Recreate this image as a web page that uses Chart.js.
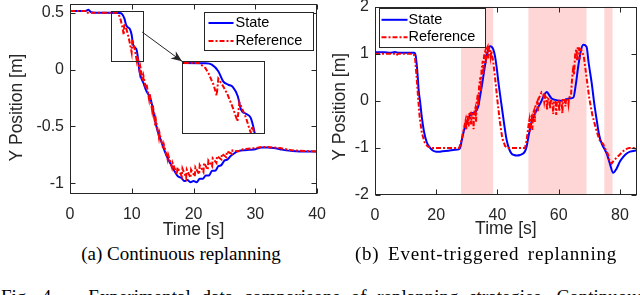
<!DOCTYPE html>
<html>
<head>
<meta charset="utf-8">
<script src="https://cdn.jsdelivr.net/npm/chart.js@4.4.1/dist/chart.umd.min.js"></script>
<style>
  html, body { margin: 0; padding: 0; background: #fff; }
  body { width: 640px; height: 295px; position: relative; overflow: hidden; }
  .box { position: absolute; }
  .cap { position: absolute; font-family: "Liberation Serif", "Times New Roman", serif; font-size: 19px; line-height: 19px; color: #000; white-space: nowrap; }
  .mid { transform: translateX(-50%); }
</style>
</head>
<body>
<div class="box" style="left:0;top:-12.3px;width:337px;height:252.3px"><canvas id="chartA"></canvas></div>
<div class="box" style="left:182px;top:61px;width:83px;height:73px"><canvas id="chartZoom"></canvas></div>
<div class="box" style="left:325px;top:-10px;width:315px;height:250px"><canvas id="chartB"></canvas></div>
<div class="cap mid" style="left:181px;top:244px">(a) Continuous replanning</div>
<div class="cap mid" style="left:486px;top:244px;word-spacing:3px;letter-spacing:0.8px">(b) Event-triggered replanning</div>
<div class="cap" style="left:1px;top:287.3px;word-spacing:6px">Fig. 4.&nbsp;&nbsp; Experimental data comparisons of replanning strategies. Continuous</div>
<script>
// (a) continuous replanning: [time s, y m]
const stateA = [
  [0, 0.515], [2.5, 0.515], [3.0, 0.525], [3.4, 0.505], [4, 0.50], [6, 0.50], [8, 0.498],
  [8.4, 0.49], [8.8, 0.45], [9.1, 0.39], [9.4, 0.37], [9.7, 0.355], [10.0, 0.30], [10.2, 0.22],
  [10.5, 0.195], [10.8, 0.17], [11.0, 0.10], [11.2, 0.0], [11.5, -0.07], [11.9, -0.12],
  [12.3, -0.18], [12.7, -0.22], [13.1, -0.27], [13.5, -0.37], [13.9, -0.48], [14.3, -0.56],
  [14.9, -0.65], [15.5, -0.74], [16.3, -0.83], [17.0, -0.90], [17.5, -0.94], [18.0, -0.95],
  [18.5, -0.98], [19.0, -0.97], [19.5, -0.99], [20.0, -0.98], [20.5, -0.99], [21.0, -0.96],
  [21.5, -0.96], [22.0, -0.93], [22.5, -0.93], [23.0, -0.89], [23.5, -0.89], [24.0, -0.85],
  [24.5, -0.84], [25.0, -0.80], [25.5, -0.79], [26.0, -0.76], [26.5, -0.74], [27.0, -0.72],
  [28, -0.71], [29, -0.705], [30, -0.70], [31, -0.685], [32, -0.685], [33, -0.69], [34, -0.70],
  [35, -0.71], [36, -0.715], [38, -0.72], [40, -0.72]
];
const refA = [
  [0, 0.515], [2.5, 0.515], [2.6, 0.50], [7.6, 0.50], [8.0, 0.47], [8.2, 0.437], [8.5, 0.37],
  [8.7, 0.305], [8.8, 0.406], [9.1, 0.36], [9.35, 0.315], [9.7, 0.23], [9.98, 0.15], [10.1, 0.264],
  [10.5, 0.172], [10.8, 0.08], [10.9, 0.12], [11.3, -0.02], [11.4, 0.02], [11.8, -0.10],
  [11.9, -0.06], [12.3, -0.17], [12.4, -0.13], [12.8, -0.26], [12.9, -0.21], [13.3, -0.36],
  [13.4, -0.31], [13.8, -0.49], [13.9, -0.44], [14.4, -0.60], [14.5, -0.56], [15.1, -0.70],
  [15.2, -0.66], [15.8, -0.79], [15.9, -0.75], [16.5, -0.86], [16.6, -0.82], [17.3, -0.92],
  [17.4, -0.86], [18.1, -0.94], [18.2, -0.87], [18.8, -0.95], [18.9, -0.88], [19.5, -0.95],
  [19.6, -0.88], [20.2, -0.94], [20.3, -0.86], [20.9, -0.92], [21.0, -0.84], [21.6, -0.90],
  [21.7, -0.82], [22.3, -0.88], [22.4, -0.80], [23.0, -0.85], [23.1, -0.78], [23.7, -0.82],
  [23.8, -0.76], [24.5, -0.79], [24.6, -0.74], [25.3, -0.77], [25.4, -0.72], [26.2, -0.74],
  [26.3, -0.71], [27.2, -0.72], [28, -0.70], [30, -0.69], [31, -0.68], [32, -0.68], [34, -0.69],
  [36, -0.71], [38, -0.715], [40, -0.72]
];
// (b) event-triggered replanning
const stateB = [
  [0, 1.03], [3, 1.03], [5, 1.02], [6.5, 1.04], [7, 1.03], [8, 1.02], [12.8, 1.02], [13.3, 0.95],
  [13.8, 0.65], [14.3, 0.2], [14.7, 0.0], [15.3, -0.35], [16.0, -0.65], [16.9, -0.88], [18, -1.0],
  [19, -1.06], [20, -1.08], [21, -1.08], [22, -1.07], [24, -1.06], [26, -1.04], [27.3, -1.03],
  [27.8, -1.0], [28.3, -0.85], [29.1, -0.62], [29.9, -0.48], [30.8, -0.33], [31.6, -0.27],
  [32.5, -0.25], [33.2, -0.2], [33.8, -0.1], [34.3, 0.09], [35.1, 0.4], [35.9, 0.74], [36.8, 1.05],
  [37.6, 1.16], [38.6, 1.1], [39.2, 0.95], [39.7, 0.73], [40.5, 0.3], [41.4, -0.12], [42.2, -0.5],
  [43.0, -0.83], [43.8, -1.02], [44.6, -1.12], [45.4, -1.15], [46.3, -1.16], [47.4, -1.15],
  [48.4, -1.12], [49.0, -1.07], [49.5, -0.98], [50.3, -0.7], [51.2, -0.43], [52.0, -0.3],
  [52.8, -0.2], [53.6, -0.1], [54.4, 0.0], [55.2, 0.12], [56.1, 0.19], [56.9, 0.12], [57.7, 0.05],
  [59, 0.02], [60.4, 0.0], [62, 0.02], [63.5, 0.05], [64.8, 0.07], [65.6, 0.35], [66.4, 0.74],
  [67.2, 1.05], [68.0, 1.19], [69.1, 1.15], [69.8, 0.8], [70.8, 0.37], [71.6, -0.05], [72.4, -0.4],
  [73.2, -0.72], [74.0, -0.9], [75.0, -1.03], [75.7, -1.12], [76.7, -1.33], [77.8, -1.53],
  [78.9, -1.44], [80, -1.29], [81.1, -1.19], [82.2, -1.12], [83.3, -1.08], [85.5, -1.05]
];
const refB = [
  [0, 1.0], [6.5, 1.0], [7, 0.97], [7.5, 1.0], [12.6, 1.0], [13.1, 0.9], [13.6, 0.5], [14.1, 0.05],
  [14.6, -0.35], [15.3, -0.68], [16.2, -0.88], [17.2, -0.97], [18.5, -1.0], [27.5, -1.0],
  [28.2, -0.85], [29.0, -0.6], [29.6, -0.42], [29.8, -0.62], [30.0, -0.36], [30.4, -0.3],
  [30.6, -0.55], [30.8, -0.28], [31.2, -0.26], [31.4, -0.5], [31.6, -0.27], [32.0, -0.3],
  [32.2, -0.6], [32.4, -0.25], [32.8, -0.15], [33.0, -0.45], [33.2, -0.05], [33.6, 0.15],
  [33.8, -0.1], [34.0, 0.3], [34.4, 0.5], [34.6, 0.2], [34.8, 0.65], [35.2, 0.85], [35.4, 0.55],
  [35.6, 0.95], [36.0, 1.05], [36.2, 0.8], [36.4, 1.1], [36.8, 1.15], [37.0, 0.9], [37.2, 1.13],
  [37.6, 1.1], [37.8, 0.95], [38.0, 1.05], [38.6, 0.85], [39.2, 0.5], [40.0, 0.0], [40.8, -0.45],
  [41.6, -0.8], [42.5, -0.96], [43.5, -1.0], [49.0, -1.0], [49.5, -0.85], [50.2, -0.5],
  [50.4, -0.42], [50.6, -0.65], [50.8, -0.36], [51.2, -0.32], [51.4, -0.62], [51.6, -0.27],
  [52.0, -0.2], [52.2, -0.45], [52.4, -0.12], [53.0, -0.02], [53.2, -0.22], [53.4, 0.04],
  [54.0, 0.12], [54.4, 0.18], [55.0, 0.14], [55.3, -0.02], [55.6, 0.1], [56.0, 0.05], [56.2, -0.2],
  [56.4, 0.05], [57.0, 0.02], [57.2, -0.16], [57.4, 0.0], [58.0, 0.0], [58.2, -0.28], [58.4, 0.0],
  [59.0, -0.02], [59.2, -0.3], [59.4, -0.02], [60.0, 0.0], [60.2, -0.22], [60.4, 0.0], [61.0, 0.0],
  [61.2, -0.26], [61.4, 0.02], [62.0, 0.02], [62.2, -0.12], [62.4, 0.03], [63.0, 0.05],
  [63.2, -0.06], [63.4, 0.07], [64.0, 0.1], [64.3, 0.4], [64.8, 0.75], [65.0, 0.55], [65.4, 1.0],
  [65.8, 1.1], [66.0, 0.85], [66.2, 1.12], [66.6, 1.12], [66.8, 0.88], [67.0, 1.1], [67.4, 1.08],
  [68.2, 0.95], [69.0, 0.55], [70.0, 0.05], [71.0, -0.3], [72.0, -0.55], [72.9, -0.75],
  [73.5, -0.85], [74.0, -0.88], [74.6, -0.92], [75.0, -1.0], [75.5, -1.05], [76.2, -1.15],
  [76.5, -1.25], [77.3, -1.33], [78.0, -1.27], [79.0, -1.2], [80.0, -1.14], [81.0, -1.07],
  [82.2, -1.02], [83.0, -1.0], [85.5, -1.0]
];
// time windows where replanning was triggered (shaded)
const eventWindows = [[28.1, 38.6], [50.1, 69.1], [74.9, 77.6]];

const xTicksA = [0, 10, 20, 30, 40];
const yTicksA = [-1, -0.5, 0, 0.5];
const xTicksB = [0, 20, 40, 60, 80];
const yTicksB = [-2, -1, 0, 1, 2];
const seriesNames = ["State", "Reference"];

const AXIS = "#262626";
const SANS = '"Liberation Sans", Arial, Helvetica, sans-serif';
Chart.defaults.font.family = SANS;
Chart.defaults.color = AXIS;

const pts = arr => arr.map(([x, y]) => ({ x, y }));

function lines(stateData, refData) {
  return [
    { label: seriesNames[1], data: pts(refData), borderColor: "#ff0000", borderWidth: 2,
      borderDash: [5, 2, 2, 2], pointRadius: 0, tension: 0, order: 0 },
    { label: seriesNames[0], data: pts(stateData), borderColor: "#0000ff", borderWidth: 2,
      pointRadius: 0, cubicInterpolationMode: "monotone", order: 1 }
  ];
}

// box, inward ticks, y label, legend, shading, zoom marker
const framePlugin = {
  id: "frame",
  beforeDraw(chart, args, o) {
    if (!o.bg) return;
    const { ctx, width, height } = chart;
    ctx.save();
    ctx.fillStyle = "#fff";
    ctx.fillRect(0, 0, width, height);
    ctx.restore();
  },
  beforeDatasetsDraw(chart, args, o) {
    if (!o.bands) return;
    const { ctx, chartArea: a, scales: { x } } = chart;
    ctx.save();
    ctx.fillStyle = "#ffd6d6";
    o.bands.forEach(([t0, t1]) => {
      const p0 = x.getPixelForValue(t0), p1 = x.getPixelForValue(t1);
      ctx.fillRect(p0, a.top, p1 - p0, a.bottom - a.top);
    });
    ctx.restore();
  },
  afterDraw(chart, args, o) {
    const { ctx, chartArea: a, scales: { x, y } } = chart;
    ctx.save();
    ctx.strokeStyle = AXIS;
    ctx.lineWidth = 1;
    const L = Math.round(a.left) + 0.5, R = Math.round(a.right) - 0.5;
    const T = Math.round(a.top) + 0.5, B = Math.round(a.bottom) - 0.5;
    ctx.strokeRect(L, T, R - L, B - T);
    if (o.ticks) {
      ctx.beginPath();
      x.ticks.forEach(t => {
        const p = Math.round(x.getPixelForValue(t.value)) + 0.5;
        ctx.moveTo(p, B); ctx.lineTo(p, B - 5);
        ctx.moveTo(p, T); ctx.lineTo(p, T + 5);
      });
      y.ticks.forEach(t => {
        const p = Math.round(y.getPixelForValue(t.value)) + 0.5;
        ctx.moveTo(L, p); ctx.lineTo(L + 5, p);
        ctx.moveTo(R, p); ctx.lineTo(R - 5, p);
      });
      ctx.stroke();
    }
    if (o.yTitle) {
      ctx.save();
      ctx.translate(o.yTitle.x, (a.top + a.bottom) / 2 + o.yTitle.dy);
      ctx.rotate(-Math.PI / 2);
      ctx.font = "17.5px " + SANS;
      ctx.fillStyle = AXIS;
      ctx.textAlign = "center";
      ctx.textBaseline = "middle";
      ctx.fillText(o.yTitle.text, 0, 0);
      ctx.restore();
    }
    if (o.zoom) {
      const z = o.zoom;
      const zx0 = x.getPixelForValue(z.x0), zx1 = x.getPixelForValue(z.x1);
      const zy0 = y.getPixelForValue(z.y0), zy1 = y.getPixelForValue(z.y1);
      ctx.strokeRect(Math.round(zx0) + 0.5, Math.round(zy1) + 0.5, Math.round(zx1 - zx0), Math.round(zy0 - zy1));
      const sx = zx1, sy = y.getPixelForValue(z.arrowY);
      const [ex, ey] = z.arrowTo;
      ctx.beginPath(); ctx.moveTo(sx, sy); ctx.lineTo(ex, ey); ctx.stroke();
      const ang = Math.atan2(ey - sy, ex - sx), hl = 11, hw = 4.5;
      ctx.fillStyle = AXIS;
      ctx.beginPath();
      ctx.moveTo(ex, ey);
      ctx.lineTo(ex - hl * Math.cos(ang) + hw * Math.sin(ang), ey - hl * Math.sin(ang) - hw * Math.cos(ang));
      ctx.lineTo(ex - 0.7 * hl * Math.cos(ang), ey - 0.7 * hl * Math.sin(ang));
      ctx.lineTo(ex - hl * Math.cos(ang) - hw * Math.sin(ang), ey - hl * Math.sin(ang) + hw * Math.cos(ang));
      ctx.closePath(); ctx.fill();
    }
    if (o.legend) {
      const g = o.legend;
      const bx = Math.round(a.left + g.dx) + 0.5, by = Math.round(a.top + g.dy) + 0.5;
      ctx.fillStyle = "#fff";
      ctx.fillRect(bx, by, g.w, g.h);
      ctx.strokeStyle = AXIS;
      ctx.strokeRect(bx, by, g.w, g.h);
      ctx.font = "14.5px " + SANS;
      ctx.textBaseline = "middle";
      seriesNames.forEach((name, i) => {
        const ds = chart.data.datasets.find(d => d.label === name);
        const ry = by + g.rowY[i];
        ctx.strokeStyle = ds.borderColor;
        ctx.lineWidth = ds.borderWidth;
        ctx.setLineDash(ds.borderDash || []);
        ctx.beginPath(); ctx.moveTo(bx + g.lx0, ry); ctx.lineTo(bx + g.lx1, ry); ctx.stroke();
        ctx.setLineDash([]);
        ctx.fillStyle = "#000";
        ctx.fillText(name, bx + g.tx, ry);
      });
    }
    ctx.restore();
  }
};

function axes(xMin, xMax, xTicks, yMin, yMax, yTicks, yWidth, xHeight) {
  return {
    x: {
      type: "linear", min: xMin, max: xMax,
      afterBuildTicks: s => { s.ticks = xTicks.map(v => ({ value: v })); },
      afterFit: s => { s.height = xHeight; },
      ticks: { font: { size: 16 }, padding: 11, maxRotation: 0, callback: v => String(v) },
      grid: { display: false, drawTicks: false }, border: { display: false },
      title: { display: true, text: "Time [s]", font: { size: 17.5 }, padding: 0, color: AXIS }
    },
    y: {
      min: yMin, max: yMax,
      afterBuildTicks: s => { s.ticks = yTicks.map(v => ({ value: v })); },
      afterFit: s => { s.width = yWidth; },
      ticks: { font: { size: 16 }, padding: 6, callback: v => String(v) },
      grid: { display: false, drawTicks: false }, border: { display: false }
    }
  };
}

const zoomWin = { x0: 6.56, x1: 11.68, y0: 0.073, y1: 0.512 };

new Chart(document.getElementById("chartA"), {
  type: "line",
  data: { datasets: lines(stateA, refA) },
  options: {
    responsive: true, maintainAspectRatio: false, animation: false,
    layout: { padding: { top: 15.6, right: 0, left: 0, bottom: 0 } },
    scales: axes(0, 40, xTicksA, -1.09, 0.58, yTicksA, 70, 46.7),
    plugins: {
      legend: { display: false }, tooltip: { enabled: false },
      frame: {
        ticks: true,
        yTitle: { text: "Y Position [m]", x: 17, dy: 9 },
        legend: { dx: 134, dy: 8, w: 109, h: 38, rowY: [10.5, 28.5], lx0: 4, lx1: 29, tx: 31 },
        zoom: { ...zoomWin, arrowY: 0.33, arrowTo: [182, 73.3] }
      }
    }
  },
  plugins: [framePlugin]
});

new Chart(document.getElementById("chartZoom"), {
  type: "line",
  data: { datasets: lines(stateA, refA) },
  options: {
    responsive: true, maintainAspectRatio: false, animation: false,
    layout: { padding: 0 },
    scales: {
      x: { type: "linear", display: false, min: zoomWin.x0, max: zoomWin.x1 },
      y: { display: false, min: zoomWin.y0, max: zoomWin.y1 }
    },
    plugins: { legend: { display: false }, tooltip: { enabled: false }, frame: { bg: true } }
  },
  plugins: [framePlugin]
});

new Chart(document.getElementById("chartB"), {
  type: "line",
  data: { datasets: lines(stateB, refB) },
  options: {
    responsive: true, maintainAspectRatio: false, animation: false,
    layout: { padding: { top: 16.7, right: 3, left: 0, bottom: 0 } },
    scales: axes(0, 85.5, xTicksB, -2, 2, yTicksB, 50, 45),
    plugins: {
      legend: { display: false }, tooltip: { enabled: false },
      frame: {
        ticks: true, bands: eventWindows,
        yTitle: { text: "Y Position [m]", x: 15, dy: 6 },
        legend: { dx: 4, dy: 1.5, w: 106, h: 39, rowY: [11.3, 28.7], lx0: 2, lx1: 28, tx: 29 }
      }
    }
  },
  plugins: [framePlugin]
});
</script>
</body>
</html>
